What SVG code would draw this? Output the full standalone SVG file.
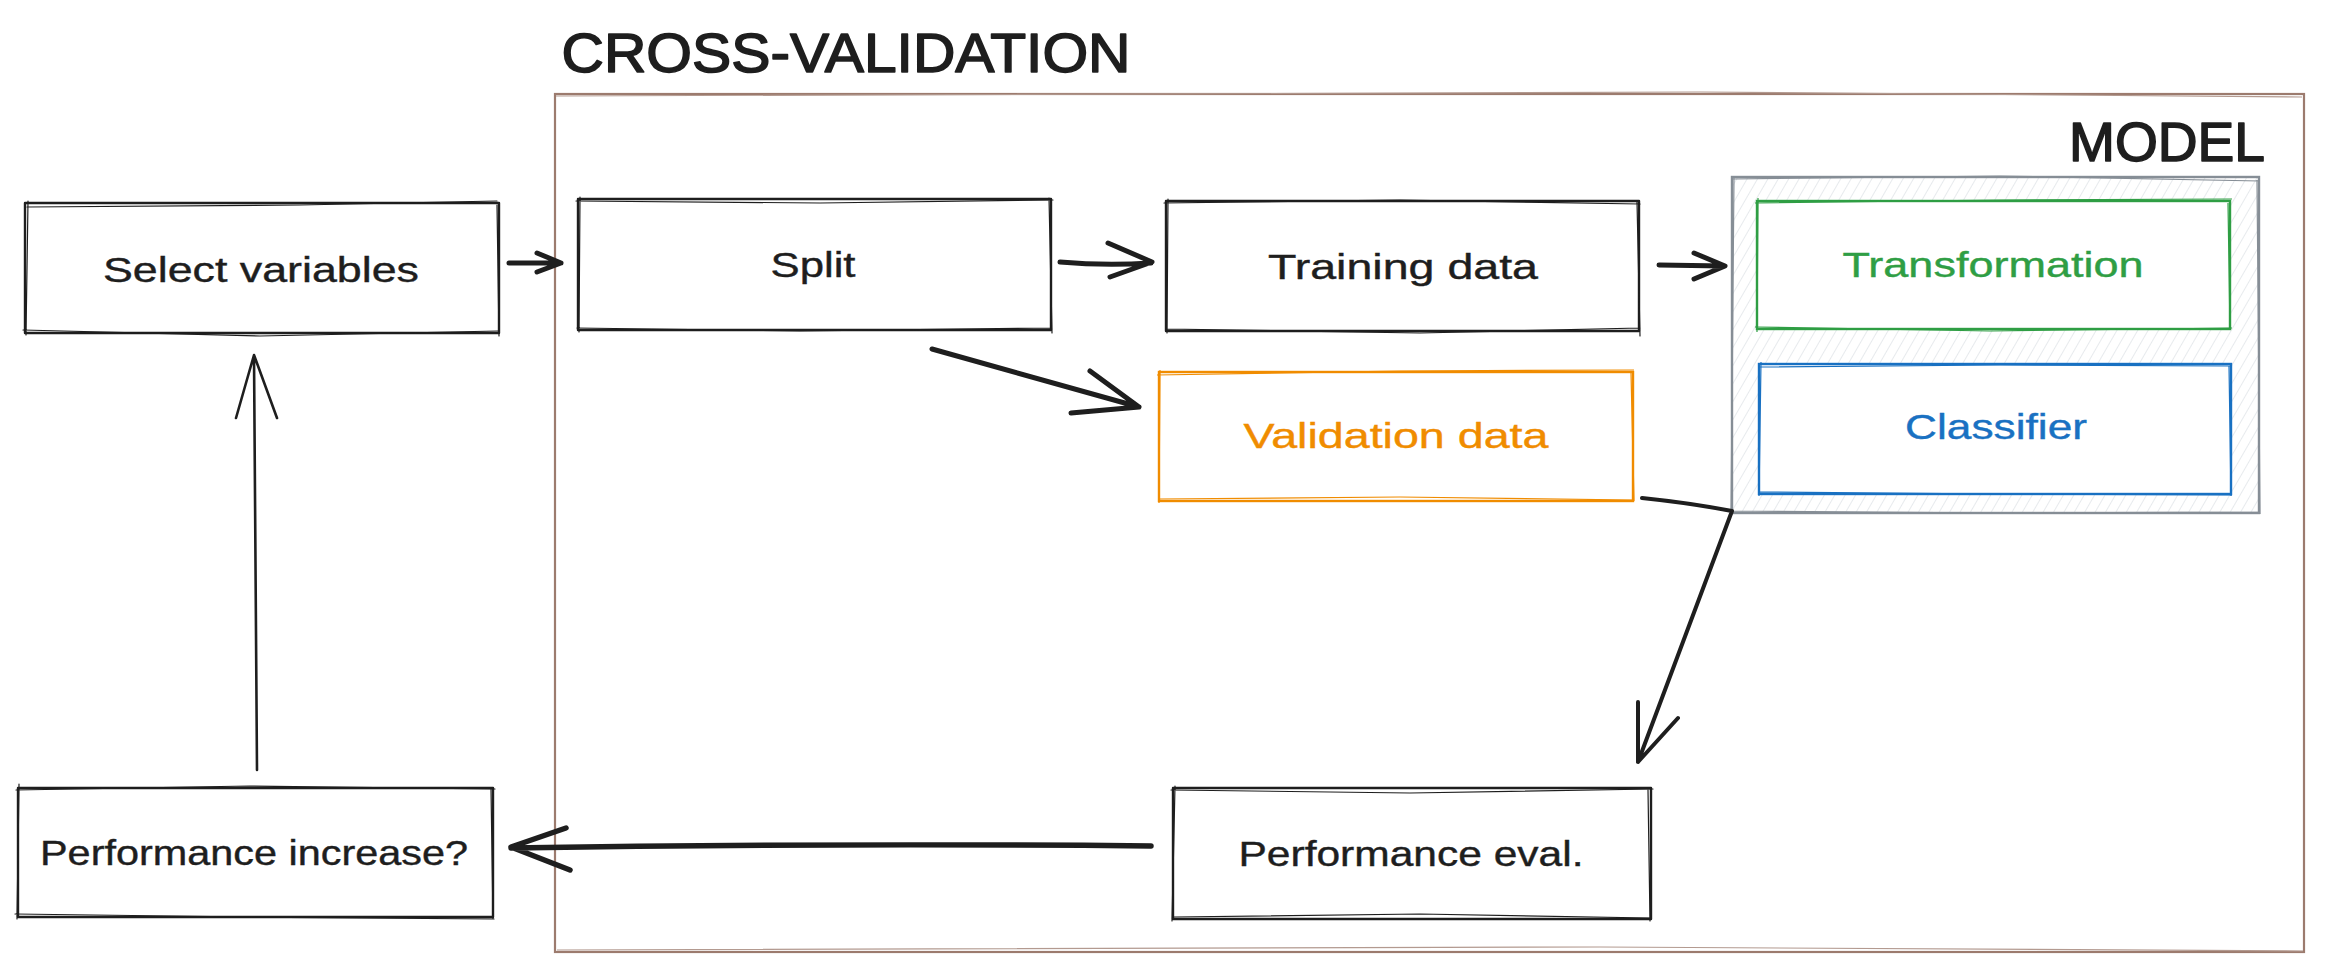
<svg xmlns="http://www.w3.org/2000/svg" width="2326" height="974" viewBox="0 0 2326 974">
<defs>
<style>
.t{font-family:"Liberation Sans","DejaVu Sans",sans-serif;font-size:35px;fill:#1e1e1e;text-anchor:middle;stroke:#1e1e1e;stroke-width:0.4}
.title{font-family:"Liberation Sans","DejaVu Sans",sans-serif;font-size:56px;fill:#1e1e1e;text-anchor:middle;stroke:#1e1e1e;stroke-width:1.6;stroke-linejoin:round}
.box{fill:#ffffff;stroke:#1e1e1e;stroke-width:2.4;stroke-linejoin:round}
.sk{fill:none;stroke:#1e1e1e;stroke-width:1.2;stroke-linecap:round}
.arr{fill:none;stroke:#1e1e1e;stroke-linecap:round;stroke-linejoin:round}
</style>
<pattern id="hatch" width="9" height="9" patternUnits="userSpaceOnUse" patternTransform="rotate(30)">
<line x1="0" y1="0" x2="0" y2="9" stroke="#dde1e6" stroke-width="1.4"/>
</pattern>
</defs>
<rect width="2326" height="974" fill="#ffffff"/>

<g id="frame-cross-validation">
<rect x="555" y="94" width="1749" height="858" fill="none" stroke="#9c7b6e" stroke-width="2.2"/>
<path d="M556 96 L1700 92 L2302 97" fill="none" stroke="#b39a90" stroke-width="1.2"/>
<path d="M557 950 L1600 947 L2303 951" fill="none" stroke="#b39a90" stroke-width="1.2"/>
<text class="title" x="846" y="72" textLength="569" lengthAdjust="spacingAndGlyphs">CROSS-VALIDATION</text>
</g>

<g id="node-select-variables">
<rect class="box" x="25" y="203" width="474" height="130"/>
<path class="sk" d="M27 207 L300 205 L497 201 M23 330 L260 336 L498 331 M28 201 L26 335 M497 205 L499 336"/>
<text class="t" x="261" y="282" textLength="316" lengthAdjust="spacingAndGlyphs">Select variables</text>
</g>

<g id="node-split">
<rect class="box" x="578" y="199" width="473" height="131"/>
<path class="sk" d="M576 201 L820 203 L1053 200 M577 328 L800 331 L1052 328 M580 197 L579 332 M1049 198 L1052 333"/>
<text class="t" x="813" y="277" textLength="85" lengthAdjust="spacingAndGlyphs">Split</text>
</g>

<g id="node-training-data">
<rect class="box" x="1166" y="201" width="473" height="130"/>
<path class="sk" d="M1164 203 L1400 200 L1640 204 M1167 329 L1420 333 L1640 328 M1168 199 L1167 333 M1637 202 L1640 336"/>
<text class="t" x="1403" y="279" textLength="270" lengthAdjust="spacingAndGlyphs">Training data</text>
</g>

<g id="node-validation-data">
<rect x="1159" y="372" width="474" height="129" fill="#ffffff" stroke="#f08c00" stroke-width="2.4"/>
<path d="M1157 375 L1400 371 L1634 370 M1158 499 L1400 497 L1634 500 M1160 370 L1159 503 M1631 373 L1634 501" fill="none" stroke="#f08c00" stroke-width="1.2"/>
<text class="t" x="1396" y="448" textLength="305" lengthAdjust="spacingAndGlyphs" style="fill:#f08c00;stroke:#f08c00">Validation data</text>
</g>

<g id="group-model">
<rect x="1732" y="177" width="527" height="336" fill="url(#hatch)" stroke="#868e96" stroke-width="2.4"/>
<path d="M1733 179 L2000 176 L2260 181 M1731 511 L2000 513 L2260 512 M1734 176 L1731 514 M2257 180 L2260 514" fill="none" stroke="#868e96" stroke-width="1.2"/>
<text class="title" x="2167" y="161" textLength="196" lengthAdjust="spacingAndGlyphs">MODEL</text>

<g id="node-transformation">
<rect x="1757" y="201" width="473" height="128" fill="#ffffff" stroke="#2f9e44" stroke-width="2.4"/>
<path d="M1755 203 L2000 200 L2232 199 M1755 327 L1990 331 L2232 328 M1758 198 L1757 332 M2228 203 L2230 330" fill="none" stroke="#2f9e44" stroke-width="1.2"/>
<text class="t" x="1993" y="277" textLength="301" lengthAdjust="spacingAndGlyphs" style="fill:#2f9e44;stroke:#2f9e44">Transformation</text>
</g>

<g id="node-classifier">
<rect x="1759" y="364" width="472" height="130" fill="#ffffff" stroke="#1971c2" stroke-width="2.4"/>
<path d="M1758 367 L2000 365 L2232 366 M1759 492 L2000 494 L2232 495 M1761 362 L1759 496 M2229 366 L2231 496" fill="none" stroke="#1971c2" stroke-width="1.2"/>
<text class="t" x="1996" y="439" textLength="182" lengthAdjust="spacingAndGlyphs" style="fill:#1971c2;stroke:#1971c2">Classifier</text>
</g>
</g>

<g id="node-performance-eval">
<rect class="box" x="1173" y="788" width="478" height="131"/>
<path class="sk" d="M1171 790 L1410 793 L1653 789 M1174 917 L1420 914 L1650 918 M1175 786 L1172 921 M1648 790 L1650 921"/>
<text class="t" x="1411" y="866" textLength="345" lengthAdjust="spacingAndGlyphs">Performance eval.</text>
</g>

<g id="node-performance-increase">
<rect class="box" x="18" y="788" width="475" height="129"/>
<path class="sk" d="M16 790 L250 786 L495 789 M15 914 L250 917 L494 919 M19 784 L17 919 M491 789 L493 919"/>
<text class="t" x="254" y="865" textLength="428" lengthAdjust="spacingAndGlyphs">Performance increase?</text>
</g>

<g id="connectors">
<path class="arr" stroke-width="5" d="M509 263 L561 263 M537 253 L561 263 L537 272"/>
<path class="arr" stroke-width="5" d="M1060 262 Q1105 266 1151 263 M1108 243 L1152 262 L1110 277"/>
<path class="arr" stroke-width="5" d="M1659 265 L1724 266 M1694 253 L1725 266 L1694 279"/>
<path class="arr" stroke-width="5" d="M932 349 L1139 407 M1090 371 L1139 407 L1071 413"/>
<path class="arr" stroke-width="4" d="M1642 498 Q1690 503 1732 511 L1638 762 M1638 702 L1638 762 L1678 718"/>
<path class="arr" stroke-width="5.5" d="M1151 846 Q830 843 511 848 M566 828 L511 847 L570 870"/>
<path class="arr" stroke-width="2.6" d="M257 770 L254 356 M236 418 L254 355 L277 418"/>
</g>
</svg>
